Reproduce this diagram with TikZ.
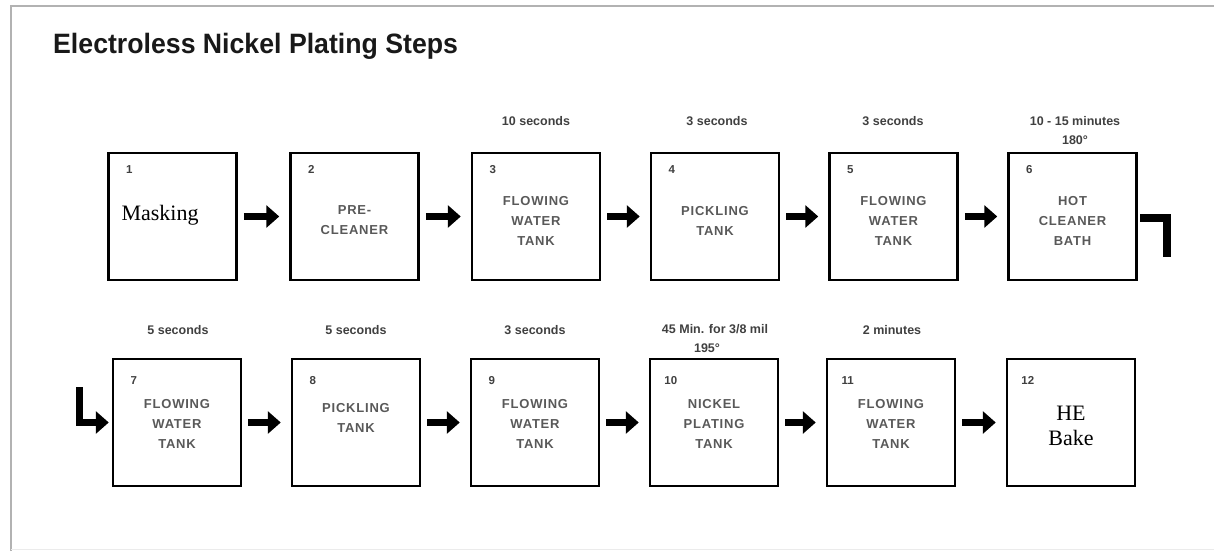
\documentclass[tikz,border=0pt]{standalone}
\usepackage{fontspec}
\usepackage{graphicx}
\setmainfont{Liberation Sans}
\newfontfamily\serifA{Liberation Serif}
\newfontfamily\capsA[LetterSpace=6]{Liberation Sans}
\usetikzlibrary{arrows.meta}
\begin{document}
\begin{tikzpicture}[x=1pt,y=-1pt,
  stepbox/.style={draw=black, line width=2.5pt, minimum width=128pt, minimum height=127pt, inner sep=0pt},
  numtxt/.style={font=\bfseries\fontsize{11.5}{12}\selectfont, text=black!75, inner sep=0pt},
  boxtxt/.style={font=\capsA\bfseries\fontsize{13}{20}\selectfont, text=black!65, align=center, inner sep=0pt},
  sertxt/.style={font=\serifA\fontsize{22}{25}\selectfont, align=center, inner sep=0pt},
  timetxt/.style={font=\bfseries\fontsize{12.5}{19}\selectfont, text=black!75, align=center, inner sep=0pt},
  arr/.style={line width=7pt, line join=miter, -{Triangle[width=22pt,length=13pt]}},
  bendline/.style={line width=7.5pt, line join=miter},
  framel/.style={draw=black!30, line width=2pt},
]
\useasboundingbox (0,0) rectangle (1214,551);
\fill[white] (0,0) rectangle (1214,551);
\draw[framel] (11,551) -- (11,6.5) -- (1214,6.5);
\draw[draw=black!8, line width=1.5pt] (11,549.5) -- (1214,549.5);

\node[anchor=base west, inner sep=0pt, text=black!90] (title) at (53,53)
  {\fontsize{28}{28}\selectfont\bfseries\scalebox{0.953}[1]{Electroless Nickel Plating Steps}};

% row 1
\node[stepbox] (b1) at (172.5,216.5) {};
\node[stepbox] (b2) at (354.5,216.5) {};
\node[stepbox] (b3) at (536,216.5) {};
\node[stepbox] (b4) at (715,216.5) {};
\node[stepbox] (b5) at (893.5,216.5) {};
\node[stepbox] (b6) at (1072.5,216.5) {};
% row 2
\node[stepbox] (b7) at (177,422.5) {};
\node[stepbox] (b8) at (356,422.5) {};
\node[stepbox] (b9) at (535,422.5) {};
\node[stepbox] (b10) at (714,422.5) {};
\node[stepbox] (b11) at (891,422.5) {};
\node[stepbox] (b12) at (1071,422.5) {};

% numbers
\foreach \i in {1,...,6} {
  \node[numtxt, anchor=center] (n\i) at ([xshift=22pt,yshift=-18pt]b\i.north west) {\i};
}
\foreach \i in {7,...,12} {
  \node[numtxt, anchor=center] (n\i) at ([xshift=22pt,yshift=-23pt]b\i.north west) {\i};
}

% box texts
\node[sertxt] (t1) at (160,215) {Masking};
\node[boxtxt] (t2) at ([yshift=-4pt]b2.center) {PRE-\\CLEANER};
\node[boxtxt] (t3) at ([yshift=-4.5pt]b3.center) {FLOWING\\WATER\\TANK};
\node[boxtxt] (t4) at ([yshift=-4.5pt]b4.center) {PICKLING\\TANK};
\node[boxtxt] (t5) at ([yshift=-4.5pt]b5.center) {FLOWING\\WATER\\TANK};
\node[boxtxt] (t6) at ([yshift=-4.5pt]b6.center) {HOT\\CLEANER\\BATH};
\node[boxtxt] (t7) at ([yshift=-1.5pt]b7.center) {FLOWING\\WATER\\TANK};
\node[boxtxt] (t8) at ([yshift=5pt]b8.center) {PICKLING\\TANK};
\node[boxtxt] (t9) at ([yshift=-1.5pt]b9.center) {FLOWING\\WATER\\TANK};
\node[boxtxt] (t10) at ([yshift=-1.5pt]b10.center) {NICKEL\\PLATING\\TANK};
\node[boxtxt] (t11) at ([yshift=-1.5pt]b11.center) {FLOWING\\WATER\\TANK};
\node[sertxt] (t12) at ([yshift=-3pt]b12.center) {HE\\Bake};

% time labels
\node[timetxt] (m3) at (536,121) {10 seconds};
\node[timetxt] (m4) at (717,121) {3 seconds};
\node[timetxt] (m5) at (893,121) {3 seconds};
\node[timetxt] (m6) at (1075,130.5) {10 - 15 minutes\\180°};
\node[timetxt] (m7) at (178,330) {5 seconds};
\node[timetxt] (m8) at (356,330) {5 seconds};
\node[timetxt] (m9) at (535,330) {3 seconds};
\node[timetxt] (m10) at (715,339) {45 Min. for 3/8 mil\\195°\hspace*{16pt}};
\node[timetxt] (m11) at (892,330) {2 minutes};

% arrows
\foreach \a/\b in {1/2,2/3,3/4,4/5,5/6,7/8,8/9,9/10,10/11,11/12} {
  \draw[arr] ([xshift=6pt]b\a.east) -- ([xshift=-10pt]b\b.west);
}

% turn-around marks
\coordinate (ka) at (1140,217.75);
\coordinate (kb) at (1167,257);
\draw[bendline] (ka) -| (kb);
\coordinate (la) at (79,387);
\draw[arr] (la) |- ([xshift=-3pt]b7.west);
\end{tikzpicture}
\end{document}
